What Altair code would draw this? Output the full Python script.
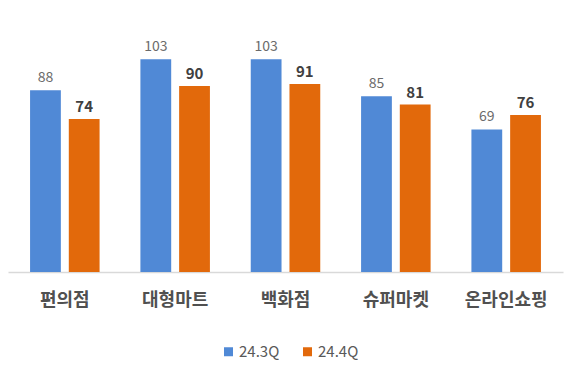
import altair as alt
import pandas as pd

categories = ["편의점", "대형마트", "백화점", "슈퍼마켓", "온라인쇼핑"]
series = ["24.3Q", "24.4Q"]
q3_values = [88, 103, 103, 85, 69]
q4_values = [74, 90, 91, 81, 76]

rows = []
for c, a, b in zip(categories, q3_values, q4_values):
    rows.append({"category": c, "series": series[0], "value": a})
    rows.append({"category": c, "series": series[1], "value": b})
df = pd.DataFrame(rows)

FONT = "Noto Sans CJK KR"
colors = ["#5089D6", "#E2690B"]

x = alt.X("category:N", sort=categories, title=None,
          scale=alt.Scale(paddingInner=0.37, paddingOuter=0.2),
          axis=alt.Axis(labelAngle=0, ticks=False, labelPadding=19,
                        labelFont=FONT, labelFontSize=18, labelFontWeight="bold",
                        labelColor="#505050", domainColor="#d9d9d9", domainWidth=1.5))
xo = alt.XOffset("series:N", sort=series, scale=alt.Scale(paddingInner=0.205))
y = alt.Y("value:Q", scale=alt.Scale(domain=[0, 120]), axis=None, title=None)

base = alt.Chart(df)

bars = base.mark_bar().encode(
    x=x, xOffset=xo, y=y,
    color=alt.Color("series:N", sort=series,
                    scale=alt.Scale(domain=series, range=colors),
                    legend=alt.Legend(title=None, orient="none", direction="horizontal",
                                      legendX=213, legendY=320, symbolType="square",
                                      symbolSize=81, labelFont=FONT, labelFontSize=15,
                                      labelColor="#595959", columnPadding=20,
                                      labelOffset=3, symbolStrokeWidth=0))
)

t1 = base.transform_filter(alt.datum.series == series[0]).mark_text(
    dy=-12, font=FONT, fontSize=14, color="#6b6b6b"
).encode(x=x, xOffset=xo, y=y, text="value:Q")

t2 = base.transform_filter(alt.datum.series == series[1]).mark_text(
    dy=-12, font=FONT, fontSize=15, fontWeight="bold", color="#404040"
).encode(x=x, xOffset=xo, y=y, text="value:Q")

chart = alt.layer(bars, t1, t2).properties(
    width=555, height=248,
    autosize=alt.AutoSizeParams(type="none"),
    padding={"left": 8, "top": 24, "right": 14, "bottom": 108},
).configure_view(stroke=None)

chart.save("out.html", embed_options={"renderer": "svg", "actions": False})
